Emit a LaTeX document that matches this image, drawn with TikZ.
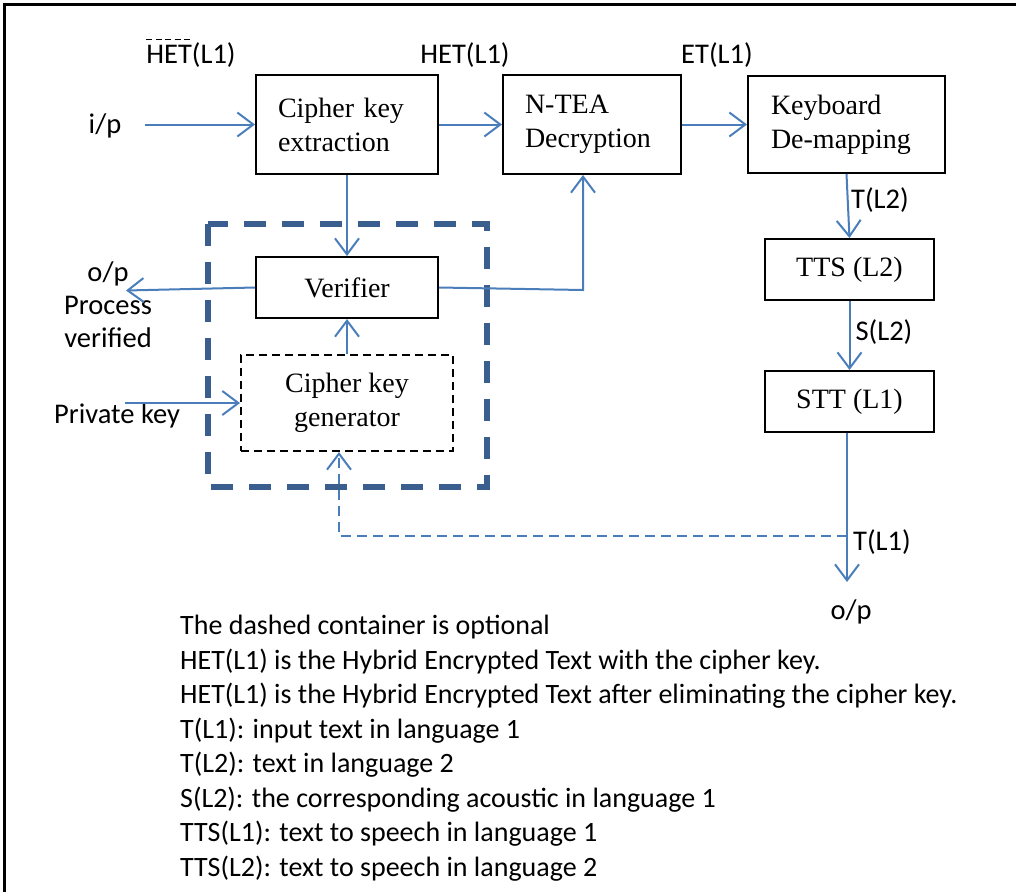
\documentclass[tikz,border=0pt]{standalone}
\usepackage{fontspec}
\setmainfont{Liberation Serif}
\newfontfamily\lblfont{Carlito}
\usetikzlibrary{arrows.meta}
\definecolor{arrblue}{HTML}{4A7EBB}
\definecolor{boxblue}{HTML}{3A5F8F}
\tikzset{
  blk/.style={draw=black, line width=2pt, rectangle, inner sep=0pt, font=\fontsize{28}{34}\selectfont},
  lbl/.style={inner sep=0pt, font=\lblfont\fontsize{28.5}{33}\selectfont},
  arr/.style={draw=arrblue, line width=2pt, -{Straight Barb[length=16pt,width=24pt,line width=2pt]}},
  dasharr/.style={arr, dash pattern=on 10pt off 6pt},
}
\begin{document}
\begin{tikzpicture}[x=1pt,y=-1pt]
\useasboundingbox (0,0) rectangle (1018,892);
% frame
\draw[line width=3pt] (4,892) -- (4,4) -- (1016,4);
% optional container
\draw[boxblue, line width=6pt, dash pattern=on 22pt off 16pt] (208,224) rectangle (487,487);
% blocks
\node[blk, minimum width=182pt, minimum height=99pt, inner xsep=22pt, text width=138pt, align=left] (ext) at (347,124.5) {Cipher key\\extraction};
\node[blk, minimum width=178pt, minimum height=99pt, inner xsep=22pt, text width=134pt, align=left] (ntea) at (592,124.5) {N-TEA\\Decryption};
\node[blk, minimum width=197pt, minimum height=97pt, inner xsep=23pt, text width=151pt, align=left] (kbd) at (846.5,124.5) {Keyboard\\De-mapping};
\node[blk, minimum width=169pt, minimum height=61pt] (tts) at (849.5,269.5) {TTS (L2)};
\node[blk, minimum width=169pt, minimum height=61pt] (stt) at (849.5,401.5) {STT (L1)};
\node[blk, minimum width=182pt, minimum height=61pt] (ver) at (347,287.5) {Verifier};
\node[blk, dash pattern=on 8pt off 5pt, minimum width=212pt, minimum height=96pt, align=center] (gen) at (347,403) {Cipher key\\generator};
% labels
\node[lbl] (hetA) at (191,55) {HET(L1)};
\draw[line width=1.6pt, dash pattern=on 6pt off 3.5pt] ([yshift=3pt]hetA.north west) -- ++(47,0);
\node[lbl] (hetB) at (465,55) {HET(L1)};
\node[lbl] (etA) at (717,55) {ET(L1)};
\node[lbl] (ip) at (105,126) {i/p};
\node[lbl, align=center] (opv) at (108,305) {o/p\\Process\\verified};
\node[lbl] (pk) at (117,416) {Private key};
\node[lbl] (tl2) at (880,200) {T(L2)};
\node[lbl] (sl2) at (884,332) {S(L2)};
\node[lbl] (tl1) at (882,542) {T(L1)};
\node[lbl] (opB) at (851,612) {o/p};
% coordinates
\coordinate (ipA) at (145,124.5);
\coordinate (opA) at (126,290.5);
\coordinate (pkA) at (125,403);
\coordinate (vn) at (583,290);
\coordinate (outEnd) at (847,582);
\coordinate (fbA) at (847,536);
\coordinate (fbB) at (339,536);
% connectors
\draw[arr] (ipA) -- (ext.west);
\draw[arr] (ext.east) -- (ntea.west);
\draw[arr] (ntea.east) -- (kbd.west);
\draw[arr] (ext.south) -- (ver.north);
\draw[arr] (ver.east) -- (vn) -- (vn |- ntea.south);
\draw[arr] (ver.west) -- (opA);
\draw[arr] (pkA) -- (gen.west);
\draw[arr] (gen.north) -- (ver.south);
\draw[arr] (kbd.south) -- (tts.north);
\draw[arr] (tts.south) -- (stt.north);
\draw[arr] (stt.south -| outEnd) -- (outEnd);
\draw[dasharr] (fbA) -- (fbB) -- (fbB |- gen.south);
% legend
\node[inner sep=0pt, anchor=north west, align=left, font=\lblfont\fontsize{28}{34.5}\selectfont] (legend) at (180,615) {The dashed container is optional\\
HET(L1) is the Hybrid Encrypted Text with  the cipher key.\\
HET(L1) is the Hybrid Encrypted Text after eliminating the cipher key.\\
T(L1): input text in language  1\\
T(L2): text in language  2\\
S(L2): the corresponding acoustic in language  1\\
TTS(L1): text to speech in language  1\\
TTS(L2): text to speech in language  2};
\end{tikzpicture}
\end{document}
